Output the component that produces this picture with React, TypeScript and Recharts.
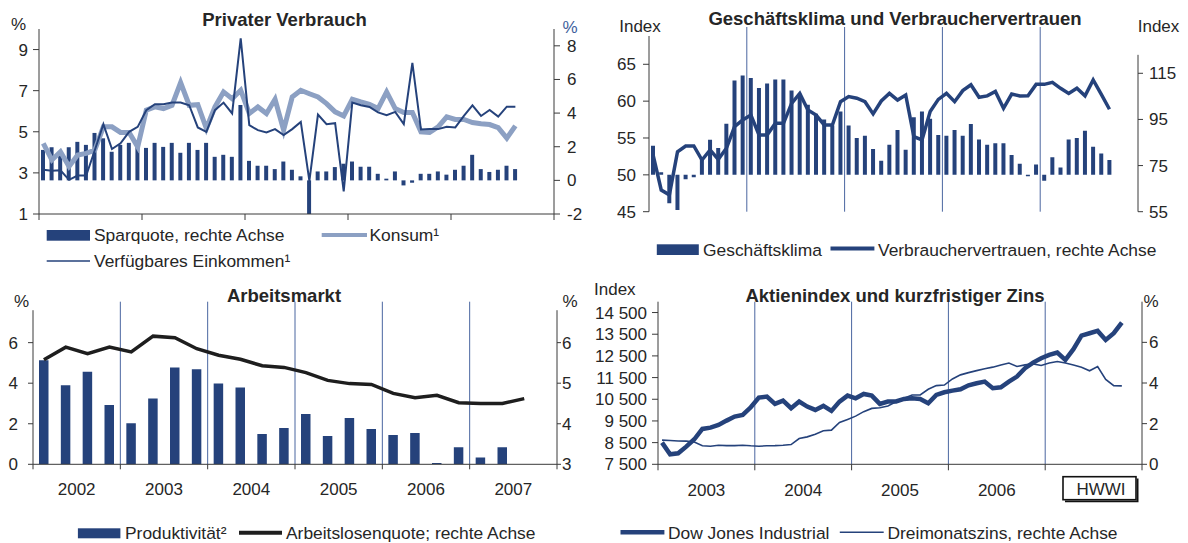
import React from "react";
import { Bar, ComposedChart, Line, ReferenceLine, XAxis, YAxis } from "recharts";

const FONT = '"Liberation Sans", Arial, Helvetica, sans-serif';
const NAVY = "#25427b";
const LIGHT = "#8ca0c3";
const YEARLINE = "#4a66a0";
const AXIS = "#3a3a3a";
const TEXT = "#262626";

// Privater Verbrauch, monthly from Jan 2003
const sparquote = [
  1.81, 1.97, 1.48, 1.97, 2.29, 2.11, 2.82, 2.5, 1.7, 2.11, 2.23, 2.23,
  1.93, 2.23, 1.99, 2.23, 1.64, 2.23, 1.81, 2.23, 1.4, 1.52, 1.4, 4.48,
  1.16, 0.87, 0.87, 0.67, 1.12, 0.63, 0.24, -2.0, 0.53, 0.53, 0.79, 0.99,
  1.12, 0.81, 0.81, 0.39, 0.1, 0.53, -0.3, -0.14, 0.39, 0.39, 0.53, 0.34,
  0.63, 0.87, 1.52, 0.67, 0.5, 0.63, 0.87, 0.67,
];
const konsum = [
  4.44, 3.63, 4.03, 3.31, 3.87, 3.95, 4.11, 5.24, 5.24, 4.97, 4.97, 4.27,
  6.05, 6.21, 6.13, 6.29, 7.39, 6.29, 6.32, 5.16, 6.21, 6.94, 6.61, 7.02,
  5.89, 6.21, 5.89, 6.58, 5.08, 6.69, 7.02, 6.85, 6.69, 6.37, 5.97, 5.77,
  6.58, 6.45, 6.34, 6.13, 6.94, 6.13, 5.94, 5.94, 5.0, 4.97, 5.24, 5.73,
  5.6, 5.6, 5.45, 5.39, 5.35, 5.2, 4.69, 5.29,
];
const einkommen = [
  3.15, 3.1, 3.13, 2.66, 2.87, 2.87, 4.1, 5.37, 4.16, 4.44, 5.0, 5.24,
  6.05, 6.34, 6.34, 6.42, 6.42, 6.29, 5.21, 5.0, 6.05, 6.42, 5.89, 9.55,
  5.32, 5.08, 4.97, 5.13, 4.84, 5.13, 5.48, 2.61, 5.84, 5.37, 5.42, 2.1,
  6.42, 6.29, 6.21, 5.94, 5.81, 5.97, 5.37, 8.35, 5.11, 5.13, 5.13, 5.24,
  5.21, 5.77, 6.29, 5.77, 6.06, 5.74, 6.22, 6.22,
];

// Geschäftsklima und Verbrauchervertrauen, monthly from Jan 2003
const geschaeftsklima = [
  53.95, 50.36, 46.15, 45.24, 49.41, 49.68, 52.36, 54.76, 53.63, 56.94, 62.79, 63.47,
  63.15, 61.79, 62.38, 62.93, 62.93, 61.43, 61.0, 59.5, 58.3, 57.5, 56.7, 58.6,
  56.7, 55.0, 55.3, 53.5, 51.9, 54.1, 56.1, 53.4, 57.8, 58.6, 57.6, 55.4,
  55.3, 56.1, 55.3, 56.9, 54.8, 54.1, 54.3, 54.3, 52.7, 51.5, 49.8, 51.4,
  49.2, 52.4, 51.0, 54.8, 55.0, 56.0, 53.8, 52.9, 52.0,
];
const vertrauen = [
  79.6, 64.4, 62.3, 81.0, 83.5, 83.5, 77.4, 81.8, 77.7, 82.5, 91.9, 94.8,
  96.9, 88.3, 88.3, 93.3, 93.3, 102.0, 106.3, 99.1, 96.9, 92.6, 92.6, 102.7,
  104.9, 104.2, 102.7, 97.4, 103.0, 106.3, 103.4, 105.6, 87.5, 86.1, 98.4, 103.7,
  106.3, 102.7, 107.5, 110.0, 104.6, 105.2, 107.1, 99.8, 106.0, 105.2, 105.3, 110.2,
  110.2, 111.1, 108.5, 106.3, 108.5, 105.2, 112.1, 105.9, 99.4,
];

// Arbeitsmarkt, quarterly from 2002 Q1
const produktivitaet = [
  5.13, 3.9, 4.56, 2.92, 2.02, 3.25, 4.77, 4.69, 3.98, 3.79, 1.49,
  1.79, 2.48, 1.39, 2.28, 1.74, 1.44, 1.54, 0.07, 0.84, 0.34, 0.84,
];
const arbeitslosenquote = [
  5.58, 5.89, 5.73, 5.89, 5.77, 6.16, 6.12, 5.85, 5.69, 5.59, 5.43, 5.39,
  5.26, 5.07, 4.99, 4.97, 4.75, 4.64, 4.7, 4.52, 4.5, 4.5, 4.62,
];
const arbeitJahre = ["2002", "2003", "2004", "2005", "2006", "2007"];

// Aktienindex und kurzfristiger Zins, monthly from Jan 2003
const dowJones = [
  8500, 7962, 8008, 8315, 8654, 9131, 9192, 9315, 9515, 9700, 9777, 10131,
  10577, 10623, 10285, 10438, 10085, 10392, 10162, 10008, 10192, 9962, 10392, 10669,
  10546, 10746, 10669, 10285, 10392, 10400, 10515, 10546, 10515, 10315, 10700, 10823,
  10900, 10962, 11146, 11238, 11315, 11008, 11054, 11315, 11546, 11931, 12192, 12392,
  12546, 12654, 12315, 12808, 13438, 13546, 13654, 13238, 13546, 14038,
];
const dreimonatszins = [
  1.19, 1.17, 1.15, 1.14, 1.1, 0.91, 0.89, 0.94, 0.92, 0.92, 0.94, 0.91,
  0.89, 0.91, 0.92, 0.94, 0.97, 1.27, 1.35, 1.48, 1.65, 1.68, 2.06, 2.21,
  2.37, 2.59, 2.75, 2.78, 2.87, 3.08, 3.25, 3.41, 3.41, 3.69, 3.87, 3.9,
  4.2, 4.4, 4.51, 4.61, 4.7, 4.78, 4.89, 4.98, 4.81, 4.89, 4.94, 4.86,
  4.98, 5.06, 4.98, 4.89, 4.78, 4.6, 4.81, 4.18, 3.87, 3.86,
];
const aktienJahre = ["2003", "2004", "2005", "2006"];

type Row = Record<string, number | number[] | null>;

function table(n: number, cols: Record<string, (number | number[])[]>): Row[] {
  return Array.from({ length: n }, (_, i) => {
    const r: Row = { x: i + 0.5 };
    for (const k of Object.keys(cols)) r[k] = cols[k][i] ?? null;
    return r;
  });
}

const verbrauchRows = table(sparquote.length, { spar: sparquote, konsum, einkommen });
const klimaRows = table(geschaeftsklima.length, {
  gk: geschaeftsklima.map((v) => [50, v]),
  cc: vertrauen,
});
const arbeitRows = table(arbeitslosenquote.length, {
  prod: produktivitaet,
  alq: arbeitslosenquote,
});
const aktienRows = table(dowJones.length, { dow: dowJones, zins: dreimonatszins });

const tickText = { fontSize: 17, fill: TEXT, fontFamily: FONT };
const thousands = (v: number) => {
  const s = String(Math.round(v));
  return s.length > 3 ? s.slice(0, -3) + " " + s.slice(-3) : s;
};

// year labels sit between the boundary ticks
const yearTick = (labels: string[], step: number, half: number) => (props: any) => {
  const { x, y, payload } = props;
  const label = labels[Math.round(payload.value / step)];
  if (!label) return <g />;
  return (
    <text x={x + half} y={y + 24} textAnchor="middle" {...tickText}>
      {label}
    </text>
  );
};

function Box({ left, top, children }: { left: number; top: number; children: React.ReactNode }) {
  return <div style={{ position: "absolute", left, top }}>{children}</div>;
}

function Overlay() {
  return (
    <svg
      width={1188}
      height={543}
      style={{ position: "absolute", left: 0, top: 0, pointerEvents: "none" }}
    >
      <g fontFamily={FONT} fill={TEXT} fontSize={17}>
        <g fontWeight="bold" fontSize={18.5} textAnchor="middle">
          <text x={284.5} y={26}>Privater Verbrauch</text>
          <text x={895} y={25}>Geschäftsklima und Verbrauchervertrauen</text>
          <text x={284} y={301.5}>Arbeitsmarkt</text>
          <text x={895} y={302}>Aktienindex und kurzfristiger Zins</text>
        </g>

        <g textAnchor="middle">
          <text x={18.5} y={30}>%</text>
          <text x={570} y={33} fill="#3e5f9c">%</text>
          <text x={640} y={31.5}>Index</text>
          <text x={1158.5} y={31.5}>Index</text>
          <text x={21.6} y={306.7}>%</text>
          <text x={570} y={306.7}>%</text>
          <text x={614.8} y={295}>Index</text>
          <text x={1151} y={306.7}>%</text>
        </g>

        <g fontSize={17.4}>
          {/* Privater Verbrauch legend */}
          <rect x={46.7} y={230} width={43.3} height={10.7} fill={NAVY} />
          <text x={94} y={241}>Sparquote, rechte Achse</text>
          <line x1={321.7} x2={367} y1={235} y2={235} stroke={LIGHT} strokeWidth={4} />
          <text x={369.5} y={241}>Konsum¹</text>
          <line x1={46.7} x2={90} y1={261} y2={261} stroke={NAVY} strokeWidth={1.6} />
          <text x={94} y={267}>Verfügbares Einkommen¹</text>

          {/* Geschäftsklima legend */}
          <rect x={656.8} y={244.3} width={42} height={10.7} fill={NAVY} />
          <text x={703} y={255.5}>Geschäftsklima</text>
          <line x1={830.5} x2={874.4} y1={248.5} y2={248.5} stroke={NAVY} strokeWidth={4} />
          <text x={878} y={255.5}>Verbrauchervertrauen, rechte Achse</text>

          {/* Arbeitsmarkt legend */}
          <rect x={77.9} y={528.3} width={42.5} height={10} fill={NAVY} />
          <text x={125} y={539}>Produktivität²</text>
          <line x1={239} x2={282} y1={532.7} y2={532.7} stroke="#1e1e1e" strokeWidth={4} />
          <text x={286} y={539}>Arbeitslosenquote; rechte Achse</text>

          {/* Aktienindex legend */}
          <line x1={620.5} x2={664.4} y1={532.3} y2={532.3} stroke={NAVY} strokeWidth={4.5} />
          <text x={668} y={539}>Dow Jones Industrial</text>
          <line x1={839.8} x2={883.7} y1={532.3} y2={532.3} stroke={NAVY} strokeWidth={1.6} />
          <text x={887.5} y={539}>Dreimonatszins, rechte Achse</text>
        </g>

        {/* source box */}
        <rect x={1063} y={476.7} width={73} height={23} fill="#fff" stroke="#111" strokeWidth={1.6} />
        <polyline
          points="1065,501.4 1137.6,501.4 1137.6,478.5"
          fill="none"
          stroke="#111"
          strokeWidth={1.8}
        />
        <text x={1101} y={495} textAnchor="middle">HWWI</text>
      </g>
    </svg>
  );
}

export default function App() {
  return (
    <div
      style={{
        position: "absolute",
        left: 0,
        top: 0,
        width: 1188,
        height: 543,
        background: "#fff",
        fontFamily: FONT,
      }}
    >
      {/* Privater Verbrauch */}
      <Box left={0} top={0}>
        <ComposedChart
          width={600}
          height={275}
          data={verbrauchRows}
          margin={{ top: 29, right: 0, bottom: 36, left: 0 }}
        >
          <XAxis
            type="number"
            dataKey="x"
            domain={[0, 60]}
            ticks={[0, 12, 24, 36, 48, 60]}
            interval={0}
            allowDataOverflow
            height={25}
            tickSize={6}
            axisLine={{ stroke: AXIS }}
            tickLine={{ stroke: AXIS }}
            tick={() => <g />}
          />
          <YAxis
            yAxisId="l"
            domain={[1, 10]}
            ticks={[1, 3, 5, 7, 9]}
            interval={0}
            allowDataOverflow
            width={39}
            tickSize={6}
            tickMargin={5}
            axisLine={{ stroke: AXIS }}
            tickLine={{ stroke: AXIS }}
            tick={tickText}
          />
          <YAxis
            yAxisId="r"
            orientation="right"
            domain={[-2, 9]}
            ticks={[-2, 0, 2, 4, 6, 8]}
            interval={0}
            allowDataOverflow
            width={46}
            tickSize={6}
            tickMargin={7}
            axisLine={{ stroke: AXIS }}
            tickLine={{ stroke: AXIS }}
            tick={tickText}
          />
          <Bar yAxisId="r" dataKey="spar" fill={NAVY} barSize={4} isAnimationActive={false} />
          <Line
            yAxisId="l"
            dataKey="konsum"
            type="linear"
            stroke={LIGHT}
            strokeWidth={5}
            dot={false}
            activeDot={false}
            isAnimationActive={false}
          />
          <Line
            yAxisId="l"
            dataKey="einkommen"
            type="linear"
            stroke={NAVY}
            strokeWidth={2}
            dot={false}
            activeDot={false}
            isAnimationActive={false}
          />
        </ComposedChart>
      </Box>

      {/* Geschäftsklima und Verbrauchervertrauen */}
      <Box left={590} top={0}>
        <ComposedChart
          width={598}
          height={275}
          data={klimaRows}
          margin={{ top: 27, right: 0, bottom: 63.3, left: 0 }}
        >
          <XAxis type="number" dataKey="x" domain={[0, 60]} allowDataOverflow hide />
          <YAxis
            yAxisId="l"
            domain={[45, 70.06]}
            ticks={[45, 50, 55, 60, 65]}
            interval={0}
            allowDataOverflow
            width={59}
            tickSize={6}
            tickMargin={7}
            axisLine={false}
            tickLine={{ stroke: AXIS }}
            tick={tickText}
          />
          <YAxis
            yAxisId="r"
            orientation="right"
            domain={[55, 135.07]}
            ticks={[55, 75, 95, 115]}
            interval={0}
            allowDataOverflow
            width={50}
            tickSize={5}
            tickMargin={6}
            axisLine={false}
            tickLine={{ stroke: AXIS }}
            tick={tickText}
          />
          {[12, 24, 36, 48].map((m) => (
            <ReferenceLine key={m} yAxisId="l" x={m} stroke={YEARLINE} strokeWidth={1} />
          ))}
          <ReferenceLine
            yAxisId="l"
            segment={[{ x: 0, y: 45 }, { x: 0, y: 68.84 }]}
            stroke={AXIS}
            ifOverflow="visible"
          />
          <ReferenceLine
            yAxisId="r"
            segment={[{ x: 60, y: 55 }, { x: 60, y: 123 }]}
            stroke={AXIS}
            ifOverflow="visible"
          />
          <Bar yAxisId="l" dataKey="gk" fill={NAVY} barSize={4} isAnimationActive={false} />
          <Line
            yAxisId="r"
            dataKey="cc"
            type="linear"
            stroke={NAVY}
            strokeWidth={3.5}
            dot={false}
            activeDot={false}
            isAnimationActive={false}
          />
        </ComposedChart>
      </Box>

      {/* Arbeitsmarkt */}
      <Box left={0} top={280}>
        <ComposedChart
          width={600}
          height={263}
          data={arbeitRows}
          margin={{ top: 21.7, right: 0, bottom: 38.7, left: 0 }}
        >
          <XAxis
            type="number"
            dataKey="x"
            domain={[0, 24]}
            ticks={[0, 4, 8, 12, 16, 20, 24]}
            interval={0}
            allowDataOverflow
            height={40}
            tickSize={5}
            axisLine={{ stroke: AXIS }}
            tickLine={{ stroke: AXIS }}
            tick={yearTick(arbeitJahre, 4, 43.65)}
          />
          <YAxis
            yAxisId="l"
            domain={[0, 8.02]}
            ticks={[0, 2, 4, 6]}
            interval={0}
            allowDataOverflow
            width={33}
            tickSize={5}
            tickMargin={10}
            axisLine={false}
            tickLine={{ stroke: AXIS }}
            tick={tickText}
          />
          <YAxis
            yAxisId="r"
            orientation="right"
            domain={[3, 7.01]}
            ticks={[3, 4, 5, 6]}
            interval={0}
            allowDataOverflow
            width={43}
            tickSize={4}
            tickMargin={1}
            axisLine={false}
            tickLine={{ stroke: AXIS }}
            tick={tickText}
          />
          {[4, 8, 12, 16, 20].map((q) => (
            <ReferenceLine key={q} yAxisId="l" x={q} stroke={YEARLINE} strokeWidth={1} />
          ))}
          <ReferenceLine
            yAxisId="l"
            segment={[{ x: 0, y: 0 }, { x: 0, y: 7.6 }]}
            stroke={AXIS}
            ifOverflow="visible"
          />
          <ReferenceLine
            yAxisId="r"
            segment={[{ x: 24, y: 3 }, { x: 24, y: 6.8 }]}
            stroke={AXIS}
            ifOverflow="visible"
          />
          <Bar yAxisId="l" dataKey="prod" fill={NAVY} barSize={9.5} isAnimationActive={false} />
          <Line
            yAxisId="r"
            dataKey="alq"
            type="linear"
            stroke="#1e1e1e"
            strokeWidth={3.5}
            dot={false}
            activeDot={false}
            isAnimationActive={false}
          />
        </ComposedChart>
      </Box>

      {/* Aktienindex und kurzfristiger Zins */}
      <Box left={590} top={280}>
        <ComposedChart
          width={598}
          height={263}
          data={aktienRows}
          margin={{ top: 21.7, right: 0, bottom: 38.7, left: 0 }}
        >
          <XAxis
            type="number"
            dataKey="x"
            domain={[0, 60]}
            ticks={[0, 12, 24, 36, 48, 60]}
            interval={0}
            allowDataOverflow
            height={40}
            tickSize={6}
            axisLine={{ stroke: AXIS }}
            tickLine={{ stroke: AXIS }}
            tick={yearTick(aktienJahre, 12, 48.4)}
          />
          <YAxis
            yAxisId="l"
            domain={[7500, 15000]}
            ticks={[7500, 8500, 9500, 10500, 11500, 12500, 13500, 14500]}
            interval={0}
            allowDataOverflow
            width={68}
            tickSize={6}
            tickMargin={5}
            axisLine={{ stroke: AXIS }}
            tickLine={{ stroke: AXIS }}
            tick={tickText}
            tickFormatter={thousands}
          />
          <YAxis
            yAxisId="r"
            orientation="right"
            domain={[0, 8]}
            ticks={[0, 2, 4, 6]}
            interval={0}
            allowDataOverflow
            width={46}
            tickSize={5}
            tickMargin={2}
            axisLine={{ stroke: AXIS }}
            tickLine={{ stroke: AXIS }}
            tick={tickText}
          />
          {[12, 24, 36, 48].map((m) => (
            <ReferenceLine key={m} yAxisId="l" x={m} stroke={YEARLINE} strokeWidth={1} />
          ))}
          <Line
            yAxisId="r"
            dataKey="zins"
            type="linear"
            stroke={NAVY}
            strokeWidth={1.6}
            dot={false}
            activeDot={false}
            isAnimationActive={false}
          />
          <Line
            yAxisId="l"
            dataKey="dow"
            type="linear"
            stroke={NAVY}
            strokeWidth={4.5}
            dot={false}
            activeDot={false}
            isAnimationActive={false}
          />
        </ComposedChart>
      </Box>

      <Overlay />
    </div>
  );
}
